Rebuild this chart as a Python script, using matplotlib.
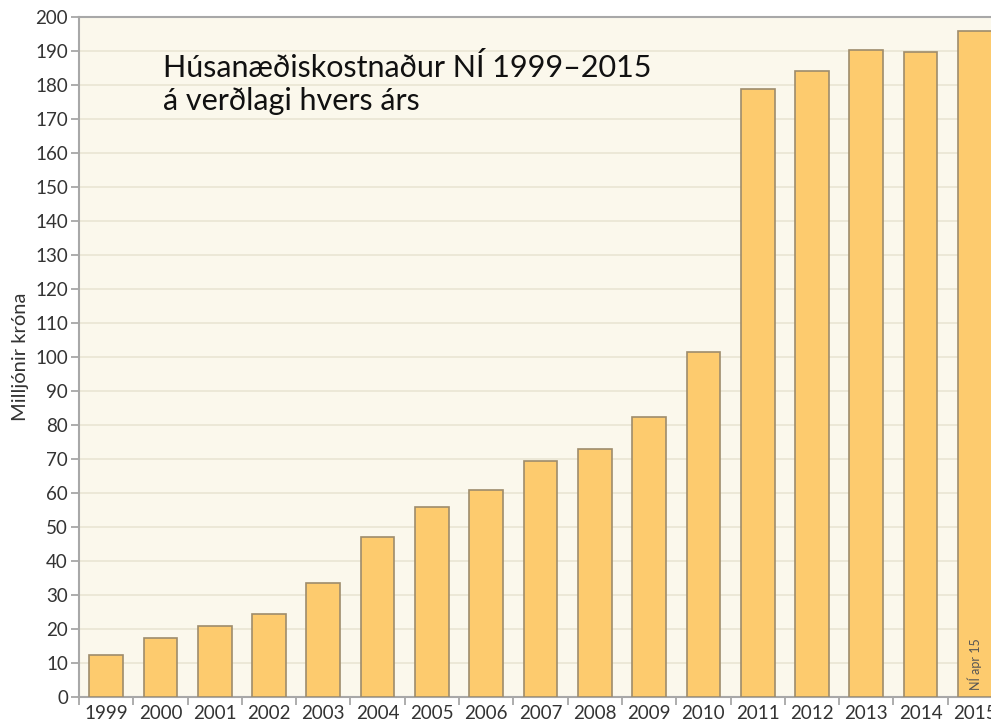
import matplotlib.pyplot as plt
import numpy as np

# gögn lesin af myndinni
years = ['1999', '2000', '2001', '2002', '2003', '2004', '2005', '2006', '2007',
         '2008', '2009', '2010', '2011', '2012', '2013', '2014', '2015']
cost = [12.3, 17.4, 20.8, 24.5, 33.5, 47.0, 56.0, 61.0, 69.5,
        73.0, 82.5, 101.5, 178.8, 184.0, 190.2, 189.7, 195.8]
yticks = list(range(0, 201, 10))

plt.rcParams['font.family'] = ['Lato', 'DejaVu Sans']

fig = plt.figure(figsize=(9.91, 7.27), dpi=100)
# ásinn nær út fyrir hægri brún eins og á frummyndinni
ax = fig.add_axes([79/991, 30/727, 923/991, 680/727])
ax.set_facecolor('#FBF8EC')

x = np.arange(len(years))
ax.bar(x, cost, width=0.62, color='#FDCB6E', edgecolor='#9E8C6C', linewidth=1.2, zorder=3)

ax.set_xlim(-0.5, len(years) - 0.5)
ax.set_ylim(0, 200)
ax.set_yticks(yticks)
ax.set_yticklabels([str(t) for t in yticks])
ax.set_xticks(x)
ax.set_xticklabels(years)
ax.set_xticks(np.arange(len(years)) - 0.5, minor=True)
ax.tick_params(axis='x', which='major', length=0, pad=6, labelsize=13.5, colors='#333333')
ax.tick_params(axis='x', which='minor', length=6, color='#A0A0A0', width=1.2)
ax.tick_params(axis='y', length=6, color='#A0A0A0', width=1.2, labelsize=13.5,
               labelcolor='#333333', pad=2)

ax.grid(axis='y', color='#EAE5D3', linewidth=1.2, zorder=0)
for s in ['left', 'bottom', 'top', 'right']:
    ax.spines[s].set_color('#A8A8A8')
    ax.spines[s].set_linewidth(1.5)

ax.set_ylabel('Milljónir króna', fontsize=14.5, color='#333333', labelpad=4)

# titill í tveimur línum
ax.text(0.091, 0.912, 'Húsanæðiskostnaður NÍ 1999–2015', transform=ax.transAxes,
        fontsize=22, va='baseline', ha='left', color='#111111')
ax.text(0.091, 0.863, 'á verðlagi hvers árs', transform=ax.transAxes,
        fontsize=22, va='baseline', ha='left', color='#111111')

ax.text(0.963, 0.01, 'NÍ apr 15', transform=ax.transAxes, fontsize=9,
        rotation=90, color='#555555', ha='left', va='bottom')

fig.savefig('out.png', dpi=100)
